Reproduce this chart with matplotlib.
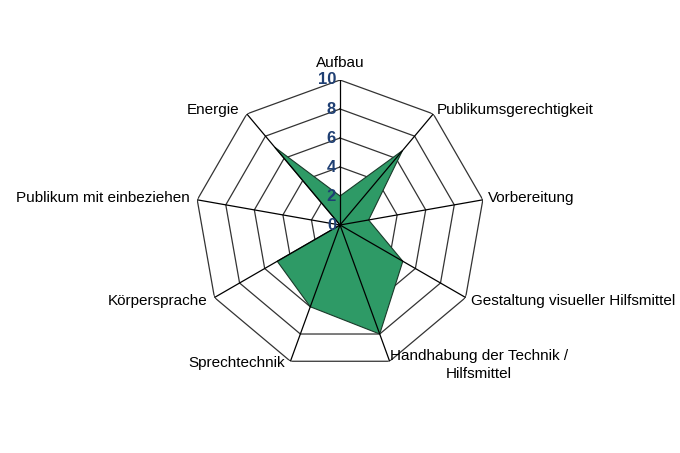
import numpy as np
import matplotlib
matplotlib.use("Agg")
from matplotlib import pyplot as plt

plt.rcParams['font.family'] = ['Liberation Sans', 'DejaVu Sans']

# Kategorien (im Uhrzeigersinn ab oben)
categories = ['Aufbau', 'Publikumsgerechtigkeit', 'Vorbereitung',
              'Gestaltung visueller Hilfsmittel',
              'Handhabung der Technik /\nHilfsmittel', 'Sprechtechnik',
              'Körpersprache', 'Publikum mit einbeziehen', 'Energie']
values = [2, 6.7, 2, 5, 8, 6, 5, 0, 7]
ticks = [0, 2, 4, 6, 8, 10]

# Beschriftungs-Offsets (Pixel) und Ausrichtung
label_offsets = [(0, 10), (4, 4), (5, 2), (5, -3), (0, -4), (-5, -2),
                 (-7, -3), (-7, 2), (-7, 4)]
label_ha = ['center', 'left', 'left', 'left', 'left', 'right', 'right',
            'right', 'right']
label_va = ['bottom', 'center', 'center', 'center', 'center', 'center',
            'center', 'center', 'center']

n = len(categories)
angles = np.linspace(0, 2 * np.pi, n, endpoint=False)
closed = np.append(angles, angles[0])

fig = plt.figure(figsize=(6.8, 4.53), dpi=100)
ax = fig.add_axes([0.5 - 0.2132, 0.5033 - 0.3201, 0.4265, 0.6402], projection='polar')
ax.set_theta_zero_location('N')
ax.set_theta_direction(-1)
ax.set_ylim(0, 10)
ax.grid(False)
ax.spines['polar'].set_visible(False)
ax.set_xticks([])
ax.set_yticks([])
ax.patch.set_alpha(0)

# Netz (Ringe)
for t in ticks[1:]:
    ax.plot(closed, [t] * (n + 1), color='#333333', lw=0.9, zorder=1)

# Datenfläche
vals = np.append(values, values[0])
ax.fill(closed, vals, facecolor='#2e9a66', edgecolor='#1a3a2a', lw=0.8, zorder=2)

# Speichen
for a in angles:
    ax.plot([a, a], [0, 10], color='black', lw=0.9, zorder=3)

# Achsenbeschriftung
for t in ticks:
    ax.annotate(str(t), xy=(0, t), xytext=(-4, 0), textcoords='offset pixels',
                ha='right', va='center', fontsize=12, fontweight='bold',
                color='#1f3f73', zorder=4)

for a, lab, off, ha, va in zip(angles, categories, label_offsets, label_ha, label_va):
    ax.annotate(lab, xy=(a, 10), xytext=off, textcoords='offset pixels',
                ha=ha, va=va, fontsize=11, multialignment='center',
                linespacing=1.35, annotation_clip=False)

fig.savefig('out.png', dpi=100)
